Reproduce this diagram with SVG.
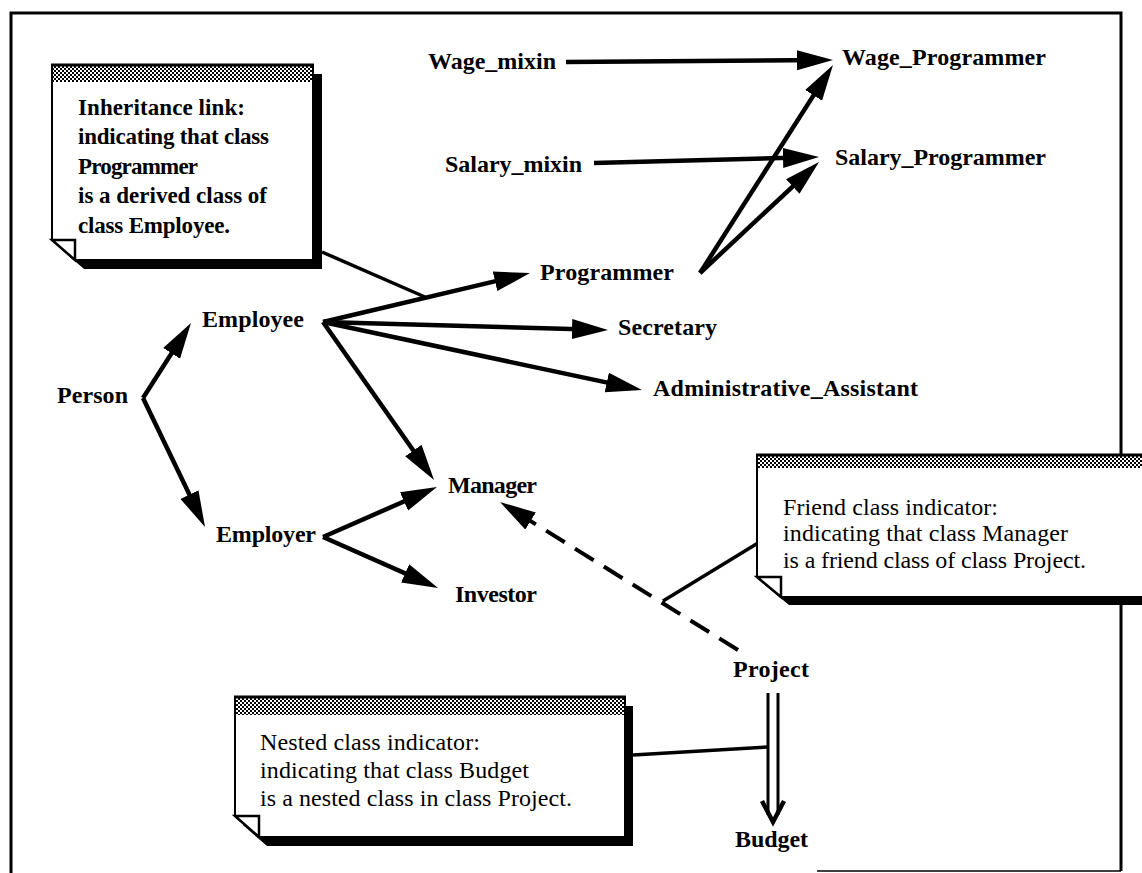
<svg xmlns="http://www.w3.org/2000/svg" width="1142" height="873" viewBox="0 0 1142 873">
  <defs>
    <style>
      .frame { fill: none; stroke: #000; stroke-width: 3; }
      .label { font-family: "Liberation Serif", "Times New Roman", serif; font-weight: bold; font-size: 24px; fill: #000; }
      .note-text { font-family: "Liberation Serif", "Times New Roman", serif; font-size: 24px; fill: #000; }
      .note-bold { font-weight: bold; font-size: 23px; }
      .note-body { fill: #fff; stroke: #000; stroke-width: 2; stroke-linejoin: miter; }
      .note-shadow { fill: #000; }
      .note-top { stroke: #000; stroke-width: 3; }
      .flap { fill: #fff; stroke: #000; stroke-width: 2.5; stroke-linejoin: miter; }
      .link { fill: none; stroke: #000; stroke-width: 4.5; marker-end: url(#head); }
      .friend { fill: none; stroke: #000; stroke-width: 4; stroke-dasharray: 22 12; marker-end: url(#head); }
      .callout { fill: none; stroke: #000; stroke-width: 3.5; }
      .nest { fill: none; stroke: #000; stroke-width: 3; }
    </style>
    <pattern id="hatch" width="4" height="4" patternUnits="userSpaceOnUse">
      <rect width="4" height="4" fill="#fff"/>
      <rect width="2" height="2" fill="#000"/>
      <rect x="2" y="2" width="2" height="2" fill="#000"/>
    </pattern>
    <!-- filled arrowhead; the line stops 10px short of the tip -->
    <marker id="head" markerUnits="userSpaceOnUse" markerWidth="38" markerHeight="22" refX="26" refY="10" orient="auto">
      <path d="M0,0 L36,10 L0,20 Z" fill="#000"/>
    </marker>
  </defs>

  <rect width="1142" height="873" fill="#fff"/>

  <!-- outer frame (open at the bottom left) -->
  <g id="frame">
    <path class="frame" d="M11,873 V13 H1121 V871"/>
    <line x1="817" y1="871" x2="1121" y2="871" stroke="#000" stroke-width="1.5"/>
  </g>

  <!-- connectors -->
  <g id="connectors">
    <line class="link" x1="566" y1="62" x2="823" y2="60.1"/>
    <line class="link" x1="594" y1="163" x2="809" y2="157.3"/>
    <line class="link" x1="700" y1="273" x2="827.6" y2="73.4"/>
    <line class="link" x1="700" y1="273" x2="811.7" y2="168.8"/>
    <line class="link" x1="323" y1="322" x2="520.3" y2="275.3"/>
    <line class="link" x1="323" y1="322" x2="598" y2="329.7"/>
    <line class="link" x1="323" y1="322" x2="632.2" y2="387.9"/>
    <line class="link" x1="323" y1="322" x2="428.3" y2="471.8"/>
    <line class="link" x1="143" y1="398" x2="185.6" y2="331.4"/>
    <line class="link" x1="143" y1="398" x2="200.7" y2="518"/>
    <line class="link" x1="323" y1="537" x2="427.8" y2="491"/>
    <line class="link" x1="323" y1="537" x2="428.9" y2="583.9"/>
    <!-- friend relation, dashed -->
    <line class="friend" x1="738" y1="650" x2="508.5" y2="507.3"/>
    <!-- nested class: double shaft with head -->
    <line class="nest" x1="768" y1="693" x2="768" y2="815"/>
    <line class="nest" x1="778" y1="693" x2="778" y2="815"/>
    <polyline points="762,801 773,822 784,801" fill="none" stroke="#000" stroke-width="4.5" stroke-linejoin="miter"/>
    <!-- callout leaders -->
    <line class="callout" x1="322" y1="252" x2="425" y2="297"/>
    <line class="callout" x1="663" y1="601" x2="758" y2="543"/>
    <line class="callout" x1="633" y1="755" x2="768" y2="747"/>
  </g>

  <!-- note: inheritance link -->
  <g id="note-inheritance">
    <path class="note-shadow" d="M61,74 H322 V269 H84 L61,249 Z"/>
    <path class="note-body" d="M52,65 H313 V260 H75 L52,240 Z"/>
    <rect x="53" y="66" width="259" height="16" fill="url(#hatch)"/>
    <line class="note-top" x1="51" y1="65" x2="314" y2="65"/>
    <path class="flap" d="M52,240 H75 V260 Z"/>
    <text class="note-text note-bold" x="78" y="115" textLength="167">Inheritance link:</text>
    <text class="note-text note-bold" x="78" y="144" textLength="191">indicating that class</text>
    <text class="note-text note-bold" x="78" y="174" textLength="120">Programmer</text>
    <text class="note-text note-bold" x="78" y="203" textLength="189">is a derived class of</text>
    <text class="note-text note-bold" x="78" y="233" textLength="152">class Employee.</text>
  </g>

  <!-- note: friend class -->
  <g id="note-friend">
    <path class="note-shadow" d="M765,463 H1170 V605 H789 L765,585 Z"/>
    <path class="note-body" d="M757,455 H1160 V597 H781 L757,577 Z"/>
    <rect x="758" y="456" width="400" height="12" fill="url(#hatch)"/>
    <line class="note-top" x1="756" y1="455" x2="1142" y2="455"/>
    <path class="flap" d="M757,577 H781 V597 Z"/>
    <text class="note-text" x="783" y="515" textLength="215">Friend class indicator:</text>
    <text class="note-text" x="783" y="541" textLength="285">indicating that class Manager</text>
    <text class="note-text" x="783" y="568" textLength="303">is a friend class of class Project.</text>
  </g>

  <!-- note: nested class -->
  <g id="note-nested">
    <path class="note-shadow" d="M243,706 H633 V846 H267 L243,825 Z"/>
    <path class="note-body" d="M235,697 H625 V837 H259 L235,816 Z"/>
    <rect x="236" y="698" width="388" height="17" fill="url(#hatch)"/>
    <line class="note-top" x1="234" y1="697" x2="626" y2="697"/>
    <path class="flap" d="M235,816 H259 V837 Z"/>
    <text class="note-text" x="260" y="750" textLength="220">Nested class indicator:</text>
    <text class="note-text" x="260" y="778" textLength="269">indicating that class Budget</text>
    <text class="note-text" x="260" y="806" textLength="312">is a nested class in class Project.</text>
  </g>

  <!-- class nodes -->
  <g id="node-wage-mixin"><text class="label" x="428" y="69" textLength="128">Wage_mixin</text></g>
  <g id="node-wage-programmer"><text class="label" x="842" y="65" textLength="204">Wage_Programmer</text></g>
  <g id="node-salary-mixin"><text class="label" x="445" y="172" textLength="137">Salary_mixin</text></g>
  <g id="node-salary-programmer"><text class="label" x="835" y="165" textLength="211">Salary_Programmer</text></g>
  <g id="node-programmer"><text class="label" x="540" y="280" textLength="134">Programmer</text></g>
  <g id="node-employee"><text class="label" x="202" y="327" textLength="102">Employee</text></g>
  <g id="node-secretary"><text class="label" x="618" y="335" textLength="99">Secretary</text></g>
  <g id="node-admin-assistant"><text class="label" x="653" y="396" textLength="265">Administrative_Assistant</text></g>
  <g id="node-person"><text class="label" x="57" y="403" textLength="71">Person</text></g>
  <g id="node-manager"><text class="label" x="448" y="493" textLength="89">Manager</text></g>
  <g id="node-employer"><text class="label" x="216" y="542" textLength="100">Employer</text></g>
  <g id="node-investor"><text class="label" x="455" y="602" textLength="82">Investor</text></g>
  <g id="node-project"><text class="label" x="733" y="677" textLength="76">Project</text></g>
  <g id="node-budget"><text class="label" x="735" y="847" textLength="73">Budget</text></g>
</svg>
